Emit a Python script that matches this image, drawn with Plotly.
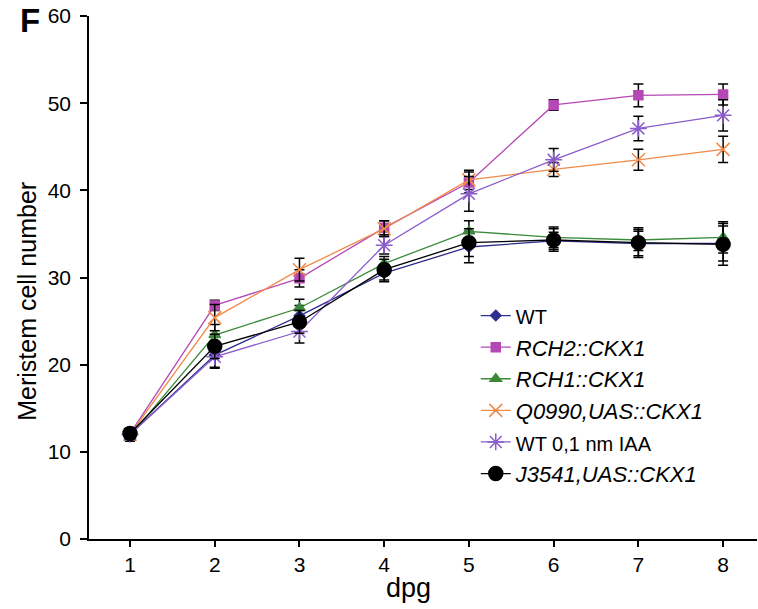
import plotly.graph_objects as go

days = [1, 2, 3, 4, 5, 6, 7, 8]

wt = [12.0, 21.1, 25.6, 30.5, 33.5, 34.2, 33.9, 33.9]
wt_err = [0.5, 1.5, 1.2, 1.0, 1.8, 1.0, 1.4, 2.0]

rch2 = [12.1, 26.8, 29.9, 35.7, 40.9, 49.8, 50.9, 51.0]
rch2_err = [0.5, 0.6, 1.0, 0.8, 1.2, 0.6, 1.3, 1.2]

rch1 = [11.8, 23.4, 26.5, 31.6, 35.3, 34.6, 34.3, 34.6]
rch1_err = [0.6, 1.2, 1.0, 0.8, 1.2, 1.2, 1.2, 1.8]

q0990 = [12.0, 25.4, 30.9, 35.6, 41.2, 42.4, 43.5, 44.7]
q0990_err = [0.5, 1.5, 1.3, 0.9, 1.1, 0.8, 1.2, 1.5]

wt_iaa = [12.0, 20.9, 23.8, 33.7, 39.6, 43.5, 47.1, 48.6]
wt_iaa_err = [0.5, 1.2, 1.3, 1.0, 2.0, 1.3, 1.4, 1.8]

j3541 = [12.1, 22.1, 24.9, 30.9, 34.0, 34.3, 34.0, 33.8]
j3541_err = [0.6, 1.4, 1.3, 1.2, 1.6, 1.3, 1.7, 2.4]

series = [
    ("<span style='font-size:20px'>WT</span>", wt, wt_err, "#2e2e8e", "diamond", 8),
    ("<i>RCH2::CKX1</i>", rch2, rch2_err, "#b548b5", "square", 9),
    ("<i>RCH1::CKX1</i>", rch1, rch1_err, "#3a8a3a", "triangle-up", 10),
    ("<i>Q0990,UAS::CKX1</i>", q0990, q0990_err, "#f08a48", "x-thin-open", 13),
    ("<span style='font-size:20px'>WT 0,1 nm IAA</span>", wt_iaa, wt_iaa_err, "#8a5ccc", "asterisk-open", 14),
    ("<i>J3541,UAS::CKX1</i>", j3541, j3541_err, "#000000", "circle", 14),
]

fig = go.Figure()
for i, (name, vals, errs, color, sym, size) in enumerate(series):
    fig.add_trace(go.Scatter(
        x=days, y=vals, name=name, mode="lines+markers",
        legendgroup=f"g{i}",
        line=dict(color=color, width=1.3),
        marker=dict(symbol=sym, size=size, color=color,
                    line=dict(color=color, width=1.5)),
        error_y=dict(type="data", array=errs, visible=True,
                     color="black", thickness=1.5, width=5),
    ))

font_family = "Liberation Sans, Arial, sans-serif"

fig.update_layout(
    width=758, height=609,
    margin=dict(l=89, r=1, t=16, b=70),
    paper_bgcolor="white", plot_bgcolor="white",
    font=dict(family=font_family, color="black"),
    showlegend=True,
    legend=dict(x=0.579, y=0.467, xanchor="left", yanchor="top",
                font=dict(size=22, family=font_family, color="black"),
                traceorder="grouped", tracegroupgap=0,
                bgcolor="rgba(0,0,0,0)"),
    xaxis=dict(range=[0.516, 8.40], tickvals=days, ticktext=[str(d) for d in days],
               showgrid=False, zeroline=False, showline=True,
               linecolor="black", linewidth=1.5,
               ticks="outside", ticklen=6, tickwidth=1.5, tickcolor="black",
               tickfont=dict(size=21)),
    yaxis=dict(range=[0, 60], tickvals=[0, 10, 20, 30, 40, 50, 60],
               showgrid=False, zeroline=False, showline=True,
               linecolor="black", linewidth=1.5,
               ticks="outside", ticklen=7, tickwidth=1.5, tickcolor="black",
               tickfont=dict(size=21), ticklabelstandoff=5),
    annotations=[
        dict(text="Meristem cell number", xref="paper", yref="paper",
             x=-0.0928, y=0.4535, xanchor="center", yanchor="middle",
             textangle=-90, showarrow=False, font=dict(size=25)),
        dict(text="dpg", xref="paper", yref="paper",
             x=0.479, y=-0.094, xanchor="center", yanchor="middle",
             showarrow=False, font=dict(size=27)),
        dict(text="<b>F</b>", xref="paper", yref="paper",
             x=-0.0883, y=0.991, xanchor="center", yanchor="middle",
             showarrow=False, font=dict(size=33)),
    ],
)

fig.write_html("out.html")
